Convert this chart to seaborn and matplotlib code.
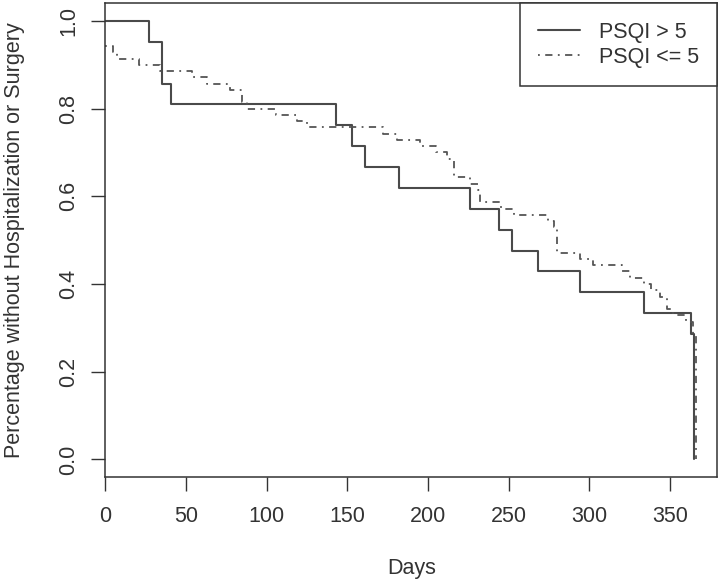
import matplotlib.pyplot as plt
import pandas as pd
import seaborn as sns

# Kaplan-Meier style step estimates
psqi_high_days = [0, 27, 35, 41, 143, 153, 161, 182, 226, 244, 252, 268, 294, 334, 363, 365]
psqi_high_surv = [1.0, 0.952, 0.857, 0.810, 0.762, 0.714, 0.667, 0.619, 0.571,
                  0.524, 0.476, 0.429, 0.381, 0.333, 0.286, 0.0]

psqi_low_days = [0, 5, 7, 21, 34, 54, 63, 77, 85, 88, 106, 119, 125, 172, 181, 195,
                 205, 212, 216, 226, 231, 232, 245, 253, 274, 278, 280, 294, 302,
                 320, 325, 334, 338, 344, 348, 352, 360, 364, 366]
psqi_low_surv = [0.943, 0.929, 0.914, 0.900, 0.886, 0.871, 0.857, 0.843, 0.814,
                 0.800, 0.786, 0.771, 0.757, 0.743, 0.729, 0.714, 0.700, 0.686,
                 0.643, 0.629, 0.614, 0.586, 0.571, 0.557, 0.543, 0.529, 0.471,
                 0.457, 0.443, 0.429, 0.414, 0.400, 0.386, 0.371, 0.343, 0.329,
                 0.314, 0.286, 0.0]

group_labels = ["PSQI > 5", "PSQI <= 5"]
x_ticks = [0, 50, 100, 150, 200, 250, 300, 350]
y_ticks = [0.0, 0.2, 0.4, 0.6, 0.8, 1.0]

sns.set_style("white")
plt.rcParams["font.family"] = ["Liberation Sans", "DejaVu Sans"]
FS = 15.5
INK = "#333333"

high = pd.DataFrame({"days": psqi_high_days, "surv": psqi_high_surv})
low = pd.DataFrame({"days": psqi_low_days, "surv": psqi_low_surv})

fig = plt.figure(figsize=(7.24, 5.88), dpi=100)
ax = fig.add_axes([0.1454, 0.1888, 0.8449, 0.8056])

sns.lineplot(data=high, x="days", y="surv", ax=ax, drawstyle="steps-post",
             estimator=None, sort=False, color="#4a4a4a", linewidth=1.5,
             label=group_labels[0])
sns.lineplot(data=low, x="days", y="surv", ax=ax, drawstyle="steps-post",
             estimator=None, sort=False, color="#555555", linewidth=1.3,
             label=group_labels[1])
ax.lines[1].set_linestyle((0, (1, 3, 4, 3)))

ax.set_xlim(0, 379)
ax.set_ylim(-0.04, 1.04)
ax.set_xticks(x_ticks)
ax.set_yticks(y_ticks)
ax.set_yticklabels([f"{v:.1f}" for v in y_ticks], rotation=90, va="center")
ax.tick_params(axis="both", direction="out", length=10, width=1, color=INK,
               labelsize=FS, labelcolor=INK, bottom=True, left=True)
ax.tick_params(axis="x", pad=11)
ax.tick_params(axis="y", pad=9)
for s in ax.spines.values():
    s.set_color(INK)
    s.set_linewidth(1.1)

ax.set_xlabel("Days", fontsize=FS, color=INK)
ax.set_ylabel("Percentage without Hospitalization or Surgery", fontsize=FS, color=INK)
ax.xaxis.set_label_coords(0.501, -0.171)
ax.yaxis.set_label_coords(-0.131, 0.5)

leg = ax.legend(loc="upper right", borderaxespad=0, fontsize=FS, fancybox=False,
                framealpha=1, edgecolor=INK, handlelength=1.95,
                handletextpad=0.85, borderpad=0.85, labelspacing=0.2)
leg.get_frame().set_linewidth(1.1)
for t in leg.get_texts():
    t.set_color(INK)

fig.savefig("out.png", dpi=100)
